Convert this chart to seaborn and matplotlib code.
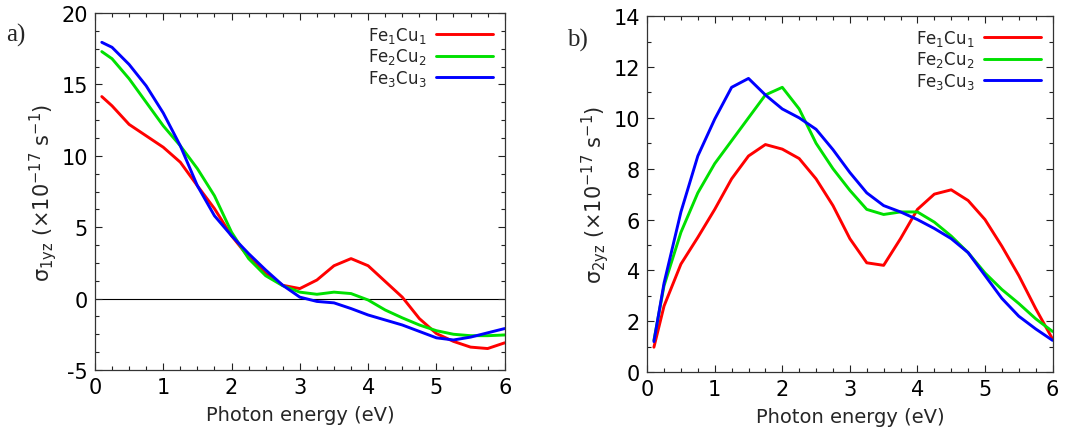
import pandas as pd
import seaborn as sns
import matplotlib.pyplot as plt
from matplotlib.ticker import MultipleLocator

# photon energy grid (eV)
energy = [0.1, 0.25, 0.5, 0.75, 1.0, 1.25, 1.5, 1.75, 2.0, 2.25, 2.5, 2.75,
          3.0, 3.25, 3.5, 3.75, 4.0, 4.25, 4.5, 4.75, 5.0, 5.25, 5.5, 5.75, 6.0]

# panel a) sigma_1yz
s1_fe1cu1 = [14.15, 13.5, 12.2, 11.4, 10.6, 9.55, 7.9, 6.3, 4.4, 2.9, 1.75, 0.93,
             0.7, 1.3, 2.3, 2.8, 2.3, 1.2, 0.1, -1.4, -2.45, -3.0, -3.4, -3.5, -3.1]
s1_fe2cu2 = [17.3, 16.8, 15.4, 13.75, 12.1, 10.7, 9.1, 7.2, 4.65, 2.8, 1.6, 0.9,
             0.45, 0.3, 0.45, 0.35, -0.1, -0.8, -1.35, -1.85, -2.25, -2.5, -2.6, -2.6, -2.55]
s1_fe3cu3 = [17.95, 17.6, 16.4, 14.9, 13.0, 10.7, 7.9, 5.8, 4.4, 3.15, 2.0, 0.93,
             0.1, -0.2, -0.3, -0.7, -1.15, -1.5, -1.85, -2.3, -2.75, -2.9, -2.7, -2.4, -2.1]

# panel b) sigma_2yz
s2_fe1cu1 = [0.98, 2.6, 4.25, 5.3, 6.4, 7.6, 8.5, 8.95, 8.77, 8.4, 7.6, 6.55,
             5.25, 4.3, 4.2, 5.25, 6.4, 7.0, 7.17, 6.75, 6.0, 4.95, 3.8, 2.5, 1.3]
s2_fe2cu2 = [1.25, 3.4, 5.5, 7.05, 8.2, 9.1, 10.0, 10.9, 11.2, 10.35, 9.0, 8.0,
             7.15, 6.4, 6.2, 6.3, 6.3, 5.9, 5.35, 4.7, 3.9, 3.25, 2.7, 2.1, 1.6]
s2_fe3cu3 = [1.2, 3.5, 6.3, 8.5, 9.95, 11.2, 11.55, 10.9, 10.35, 10.0, 9.55, 8.75,
             7.85, 7.05, 6.55, 6.3, 6.0, 5.65, 5.25, 4.7, 3.8, 2.9, 2.2, 1.7, 1.25]

labels = ["Fe$_1$Cu$_1$", "Fe$_2$Cu$_2$", "Fe$_3$Cu$_3$"]
colors = ["#ff0000", "#00e000", "#0000ff"]

def long_df(series):
    rows = []
    for lab, vals in zip(labels, series):
        for e, v in zip(energy, vals):
            rows.append({"energy": e, "sigma": v, "system": lab})
    return pd.DataFrame(rows)

df1 = long_df([s1_fe1cu1, s1_fe2cu2, s1_fe3cu3])
df2 = long_df([s2_fe1cu1, s2_fe2cu2, s2_fe3cu3])

sns.set_style("ticks")
plt.rcParams["font.family"] = ["DejaVu Sans"]
plt.rcParams["mathtext.fontset"] = "dejavusans"
plt.rcParams["axes.unicode_minus"] = False

fig = plt.figure(figsize=(10.84, 4.39), dpi=100)
ax1 = fig.add_axes([0.0876, 0.155, 0.378, 0.813])
ax2 = fig.add_axes([0.597, 0.150, 0.374, 0.811])

pal = dict(zip(labels, colors))

def style(ax, ylim, ymaj, ymin):
    ax.set_xlim(0, 6)
    ax.set_ylim(*ylim)
    ax.xaxis.set_major_locator(MultipleLocator(1))
    ax.xaxis.set_minor_locator(MultipleLocator(0.25))
    ax.yaxis.set_major_locator(MultipleLocator(ymaj))
    ax.yaxis.set_minor_locator(MultipleLocator(ymin))
    ax.tick_params(which="both", direction="in", top=True, right=True,
                   width=0.8, colors="#222222", labelcolor="black")
    ax.tick_params(which="major", length=5, labelsize=15, pad=5)
    ax.tick_params(which="minor", length=3)
    for sp in ax.spines.values():
        sp.set_color("#333333")
        sp.set_linewidth(0.9)
    ax.set_xlabel("Photon energy (eV)", fontsize=14, labelpad=6)
    ax.legend(loc="upper right", frameon=False, markerfirst=False,
              fontsize=12, handlelength=3.4, labelspacing=0.1,
              borderaxespad=0.3, handletextpad=0.6)

sns.lineplot(data=df1, x="energy", y="sigma", hue="system", palette=pal,
             linewidth=2.1, ax=ax1)
ax1.axhline(0, color="black", linewidth=0.8, zorder=0)
style(ax1, (-5, 20), 5, 1.25)
ax1.set_ylabel("σ$_{\\mathrm{1yz}}$ (×10$^{\\mathrm{-17}}$ s$^{\\mathrm{-1}}$)",
               fontsize=15, labelpad=2)

sns.lineplot(data=df2, x="energy", y="sigma", hue="system", palette=pal,
             linewidth=2.1, ax=ax2)
style(ax2, (0, 14), 2, 1)
ax2.set_ylabel("σ$_{\\mathrm{2yz}}$ (×10$^{\\mathrm{-17}}$ s$^{\\mathrm{-1}}$)",
               fontsize=15, labelpad=2)

fig.text(0.006, 0.905, "a)", fontsize=18, family="Liberation Serif")
fig.text(0.523, 0.895, "b)", fontsize=18, family="Liberation Serif")

fig.savefig("out.png", dpi=100)
